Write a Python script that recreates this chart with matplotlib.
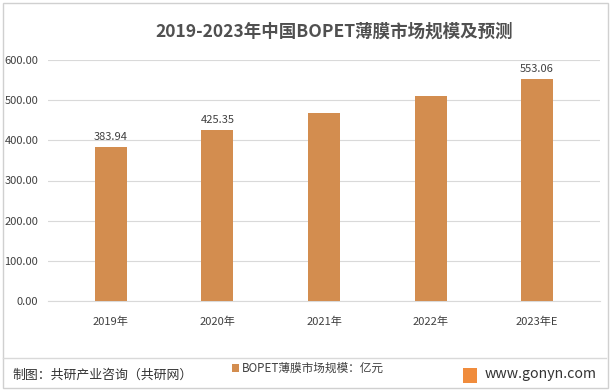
import matplotlib
matplotlib.use("Agg")
import matplotlib.pyplot as plt
from matplotlib.patches import Rectangle

plt.rcParams['font.family'] = ['Noto Sans CJK SC', 'DejaVu Sans']

categories = ["2019年", "2020年", "2021年", "2022年", "2023年E"]
values = [383.94, 425.35, 467.5, 510.0, 553.06]
labels = ["383.94", "425.35", "", "", "553.06"]
yticks = [0, 100, 200, 300, 400, 500, 600]

W, H = 611, 392
fig = plt.figure(figsize=(W/100, H/100), dpi=100)
ax = fig.add_axes([48/W, 1-301/H, (600-48)/W, (301-60)/H])

bar_color = "#D38D4F"
txt = "#404040"
x = range(len(categories))
bars = ax.bar(x, values, width=0.3, color=bar_color, zorder=3)
for b, lab in zip(bars, labels):
    if lab:
        ax.text(b.get_x()+b.get_width()/2, b.get_height()+12, lab,
                ha='center', va='bottom', fontsize=8, color=txt, fontweight='medium')

ax.set_xlim(-0.59, 4.59)
ax.set_ylim(0, 600)
ax.set_yticks(yticks)
ax.set_yticklabels([f"{v:.2f}" for v in yticks], fontsize=8, color=txt, fontweight='medium')
ax.set_xticks(list(x))
ax.set_xticklabels(categories, fontsize=8, color=txt, fontweight='medium')
ax.tick_params(axis='y', length=0, pad=7)
ax.tick_params(axis='x', length=0, pad=11)
ax.grid(axis='y', color='#D9D9D9', linewidth=0.8, zorder=0)
for s in ax.spines.values():
    s.set_visible(False)
ax.spines['bottom'].set_visible(True)
ax.spines['bottom'].set_color('#D9D9D9')

fig.text(334.5/W, 1-32/H, "2019-2023年中国BOPET薄膜市场规模及预测", ha='center', va='center',
         fontsize=12.6, fontweight='bold', color='#505050')

# outer border
fig.add_artist(Rectangle((3/W, 4/H), (W-6)/W, (H-7)/H, transform=fig.transFigure,
                         fill=False, edgecolor='#D0D0D0', linewidth=1))
# separator line
fig.add_artist(plt.Line2D([3/W, 606/W], [1-358/H, 1-358/H], transform=fig.transFigure,
                          color='#D9D9D9', linewidth=1))

fig.text(12/W, 1-375/H, "制图：共研产业咨询（共研网）", ha='left', va='center', fontsize=9.3,
         color='#333333', fontweight='medium')
fig.add_artist(Rectangle((232/W, 1-372/H), 7/W, 8/H, transform=fig.transFigure,
                         facecolor=bar_color, edgecolor='none'))
fig.text(242/W, 1-368/H, "BOPET薄膜市场规模：亿元", ha='left', va='center', fontsize=8.4,
         color=txt, fontweight='medium')
fig.add_artist(Rectangle((463/W, 1-383/H), 14/W, 15/H, transform=fig.transFigure,
                         facecolor='#F08C3C', edgecolor='none'))
fig.text(485/W, 1-374/H, "www.gonyn.com", ha='left', va='center', fontsize=10.2, color='#333333')

fig.savefig("out.png", dpi=100)
